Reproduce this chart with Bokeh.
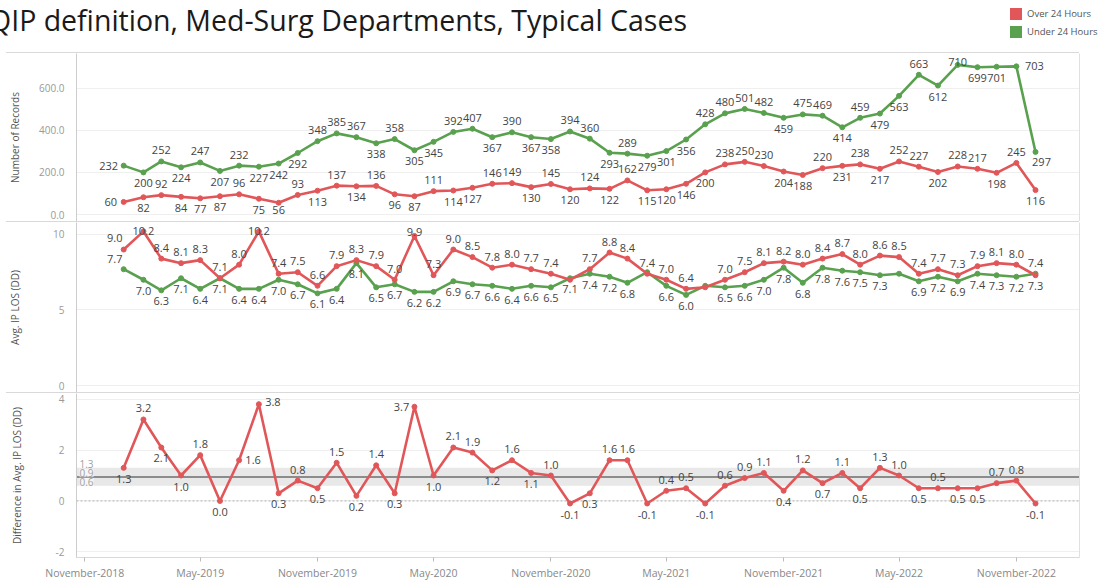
import pandas as pd
from bokeh.plotting import figure
from bokeh.models import (ColumnDataSource, Range1d, FixedTicker, DatetimeTickFormatter,
                          PrintfTickFormatter, LinearAxis, Label, Span, BoxAnnotation, Div)
from bokeh.layouts import column
from bokeh.embed import file_html
from bokeh.resources import INLINE
from bokeh.core.properties import value

# ---------------- data ----------------
months = pd.date_range("2019-01-01", periods=48, freq="MS")
records_under = [232, 200, 252, 224, 247, 207, 232, 227, 242, 292, 348, 385, 367, 338, 358, 305,
                 345, 392, 407, 367, 390, 367, 358, 394, 360, 293, 289, 279, 301, 356, 428, 480,
                 501, 482, 459, 475, 469, 414, 459, 479, 563, 663, 612, 710, 699, 701, 703, 297]
records_over = [60, 82, 92, 84, 77, 87, 96, 75, 56, 93, 113, 137, 134, 136, 96, 87,
                111, 114, 127, 146, 149, 130, 145, 120, 124, 122, 162, 115, 120, 146, 200, 238,
                250, 230, 204, 188, 220, 231, 238, 217, 252, 227, 202, 228, 217, 198, 245, 116]
los_over = [9.0, 10.2, 8.4, 8.1, 8.3, 7.1, 8.0, 10.2, 7.4, 7.5, 6.6, 7.9, 8.3, 7.9, 7.0, 9.9,
            7.3, 9.0, 8.5, 7.8, 8.0, 7.7, 7.4, 7.0, 7.7, 8.8, 8.4, 7.4, 7.0, 6.4, 6.5, 7.0,
            7.5, 8.1, 8.2, 8.0, 8.4, 8.7, 8.0, 8.6, 8.5, 7.4, 7.7, 7.3, 7.9, 8.1, 8.0, 7.3]
los_under = [7.7, 7.0, 6.3, 7.1, 6.4, 7.1, 6.4, 6.4, 7.0, 6.7, 6.1, 6.4, 8.1, 6.5, 6.7, 6.2,
             6.2, 6.9, 6.7, 6.6, 6.4, 6.6, 6.5, 7.1, 7.4, 7.2, 6.8, 7.5, 6.6, 6.0, 6.6, 6.5,
             6.6, 7.0, 7.8, 6.8, 7.8, 7.6, 7.5, 7.3, 7.4, 6.9, 7.2, 6.9, 7.4, 7.3, 7.2, 7.4]
los_diff = [1.3, 3.2, 2.1, 1.0, 1.8, 0.0, 1.6, 3.8, 0.3, 0.8, 0.5, 1.5, 0.2, 1.4, 0.3, 3.7,
            1.0, 2.1, 1.9, 1.2, 1.6, 1.1, 1.0, -0.1, 0.3, 1.6, 1.6, -0.1, 0.4, 0.5, -0.1, 0.6,
            0.9, 1.1, 0.4, 1.2, 0.7, 1.1, 0.5, 1.3, 1.0, 0.5, 0.5, 0.5, 0.5, 0.7, 0.8, -0.1]
tick_months = ["2018-11-01", "2019-05-01", "2019-11-01", "2020-05-01", "2020-11-01",
               "2021-05-01", "2021-11-01", "2022-05-01", "2022-11-01"]
band_low, band_high, band_line = 0.6, 1.3, 0.94
band_labels = ["1.3", "0.9", "0.6"]
series_names = ["Over 24 Hours", "Under 24 Hours"]
title_text = "QIP definition, Med-Surg Departments, Typical Cases"

# ---------------- style ----------------
RED = "#e15759"
GREEN = "#59a14f"
FONT = "Open Sans"
W = 1100
LEFT = 76
RIGHT = W - 1079
HEADER_H = 52
X_START = pd.Timestamp("2018-10-19")
X_END = pd.Timestamp("2023-02-08")
x_ticks = [pd.Timestamp(t).value / 1e6 for t in tick_months]


def side(vals, i):
    prev = vals[i - 1] if i > 0 else vals[i]
    nxt = vals[i + 1] if i < len(vals) - 1 else vals[i]
    return -1 if vals[i] > (prev + nxt) / 2 else 1  # -1 above, 1 below


def add_labels(p, vals, texts, yoff, xoff):
    keep = [i for i, t in enumerate(texts) if t]
    src = ColumnDataSource(dict(x=[months[i] for i in keep], y=[vals[i] for i in keep],
                                t=[texts[i] for i in keep], yo=[yoff[i] for i in keep],
                                xo=[xoff[i] for i in keep]))
    p.text("x", "y", text="t", source=src, x_offset="xo", y_offset="yo",
           text_align="center", text_baseline="middle", text_font=value(FONT),
           text_font_size="11px", text_color="#444444")


def make_panel(height, yr, ylabel, ticks, fmt, standoff, bottom=0):
    p = figure(width=W, height=height, x_axis_type="datetime",
               x_range=Range1d(X_START, X_END), y_range=Range1d(*yr),
               output_backend="svg", toolbar_location=None,
               x_axis_location="below" if bottom else None,
               min_border_left=LEFT, min_border_right=RIGHT, min_border_top=0,
               min_border_bottom=bottom)
    p.outline_line_color = None
    p.xgrid.visible = False
    p.ygrid.grid_line_color = "#efefef"
    p.yaxis.ticker = FixedTicker(ticks=ticks)
    p.yaxis.formatter = PrintfTickFormatter(format=fmt)
    p.yaxis.axis_label = ylabel
    p.yaxis.axis_label_text_font = FONT
    p.yaxis.axis_label_text_font_size = "10px"
    p.yaxis.axis_label_text_font_style = "normal"
    p.yaxis.axis_label_text_color = "#555555"
    p.yaxis.axis_label_standoff = standoff
    p.yaxis.major_label_text_font = FONT
    p.yaxis.major_label_text_font_size = "10px"
    p.yaxis.major_label_text_color = "#999999"
    p.yaxis.major_label_standoff = 6
    p.yaxis.axis_line_color = "#cccccc"
    p.yaxis.major_tick_line_color = None
    p.yaxis.minor_tick_line_color = None
    right = LinearAxis(ticker=FixedTicker(ticks=[]), axis_line_color="#e0e0e0",
                       major_tick_line_color=None, minor_tick_line_color=None,
                       major_label_standoff=0)
    p.add_layout(right, "right")
    return p


def sep():
    return Div(text="", width=1073, height=1, margin=(0, 0, 0, 6),
               styles={"background-color": "#d9d9d9", "overflow": "hidden"})


# ---------------- header: title + legend ----------------
def legend_row(top, color, name):
    return (f'<div style="position:absolute;left:1010px;top:{top}px;height:12px;'
            f'display:flex;align-items:center;white-space:nowrap;">'
            f'<span style="display:inline-block;width:12px;height:12px;background:{color};'
            f'margin-right:5px;"></span>'
            f'<span style="font-size:9.5px;color:#555555;line-height:12px;">{name}</span></div>')


header_html = (
    f'<div style="position:relative;width:{W}px;height:{HEADER_H}px;'
    f'font-family:\'{FONT}\';">'
    f'<div style="position:absolute;left:-11px;top:6px;font-size:28.5px;line-height:1;'
    f'color:#1a1a1a;white-space:nowrap;">{title_text}</div>'
    + legend_row(8, RED, series_names[0])
    + legend_row(26, GREEN, series_names[1])
    + '</div>'
)
header = Div(text=header_html, width=W, height=HEADER_H, margin=(0, 0, 0, 0))

# ---------------- panel 1 : Number of Records ----------------
p1 = make_panel(168, (-33, 764), "Number of Records", [0, 200, 400, 600], "%.1f", 14)
for vals, col in ((records_under, GREEN), (records_over, RED)):
    p1.line(months, vals, line_width=2.6, color=col)
    p1.scatter(months, vals, size=5, color=col)
under_side = [side(records_under, i) for i in range(48)]
over_side = [side(records_over, i) for i in range(48)]
for i in (1, 5, 30, 37):
    over_side[i] = 1
over_side[41] = -1
u_yo = [s * 11 for s in under_side]
o_yo = [s * 11 for s in over_side]
u_xo = [0] * 48
o_xo = [0] * 48
u_yo[0], u_xo[0] = 0, -15
o_yo[0], o_xo[0] = 0, -13
u_yo[43] = -3
u_yo[47], u_xo[47] = 10, 6
u_yo[46], u_xo[46] = 0, 18
o_yo[8] = 7
add_labels(p1, records_under, [str(v) for v in records_under], u_yo, u_xo)
add_labels(p1, records_over, [str(v) for v in records_over], o_yo, o_xo)

# ---------------- panel 2 : Avg IP LOS ----------------
p2 = make_panel(170, (-0.46, 10.79), "Avg. IP LOS (DD)", [0, 5, 10], "%d", 28)
for vals, col in ((los_under, GREEN), (los_over, RED)):
    p2.line(months, vals, line_width=2.6, color=col)
    p2.scatter(months, vals, size=5, color=col)
hide_over = {23, 30}
hide_under = {27, 30, 40}
ro_t = ["" if i in hide_over else f"{v:.1f}" for i, v in enumerate(los_over)]
ru_t = ["" if i in hide_under else f"{v:.1f}" for i, v in enumerate(los_under)]
ro_yo = [-11] * 48
ru_yo = [11] * 48
ro_xo = [0] * 48
ru_xo = [0] * 48
ro_yo[47], ru_yo[47] = 11, -11
ro_yo[0], ro_xo[0] = -12, -9
ru_yo[0], ru_xo[0] = -10, -9
ro_yo[1] = 0
ro_yo[7] = 0
ro_yo[15] = -4
add_labels(p2, los_under, ru_t, ru_yo, ru_xo)
add_labels(p2, los_over, ro_t, ro_yo, ro_xo)

# ---------------- panel 3 : Difference ----------------
p3 = make_panel(168 + 21, (-2.22, 4.22), "Difference in Avg. IP LOS (DD)", [-2, 0, 2, 4],
                "%d", 29, bottom=21)
p3.add_layout(BoxAnnotation(bottom=band_low, top=band_high, fill_color="#d6d6d6",
                            fill_alpha=0.55, line_color=None, level="underlay"))
p3.add_layout(Span(location=band_line, dimension="width", line_color="#8c8c8c", line_width=2,
                   level="underlay"))
p3.add_layout(Span(location=0, dimension="width", line_color="#b0b0b0", line_width=1,
                   line_dash="2 2", level="underlay"))
for txt, yv in zip(band_labels, (band_high, band_line, band_low)):
    p3.add_layout(Label(x=X_START, y=yv, x_offset=3, text=txt, text_font=FONT,
                        text_font_size="10px", text_color="#a0a0a0", text_baseline="bottom",
                        background_fill_color="white", background_fill_alpha=0.6,
                        level="underlay"))
p3.line(months, los_diff, line_width=2.6, color=RED)
p3.scatter(months, los_diff, size=5, color=RED)
d_side = [side(los_diff, i) for i in range(48)]
d_side[42] = -1
d_side[0] = 1
d_yo = [s * 11 for s in d_side]
d_xo = [0] * 48
d_yo[7], d_xo[7] = -2, 14
d_yo[6], d_xo[6] = 0, 14
d_yo[15], d_xo[15] = 0, -13
add_labels(p3, los_diff, [f"{v:.1f}" for v in los_diff], d_yo, d_xo)

p3.xaxis.ticker = FixedTicker(ticks=x_ticks)
p3.xaxis.formatter = DatetimeTickFormatter(days="%B-%Y", months="%B-%Y", years="%B-%Y")
p3.xaxis.major_label_text_font = FONT
p3.xaxis.major_label_text_font_size = "10.5px"
p3.xaxis.major_label_text_color = "#888888"
p3.xaxis.major_label_standoff = 4
p3.xaxis.axis_line_color = "#d9d9d9"
p3.xaxis.major_tick_line_color = "#bbbbbb"
p3.xaxis.major_tick_in = 0
p3.xaxis.major_tick_out = 4
p3.xaxis.minor_tick_line_color = None

layout = column(header, sep(), p1, sep(), p2, sep(), p3, spacing=0)

open("out.html", "w").write(file_html(layout, INLINE))
